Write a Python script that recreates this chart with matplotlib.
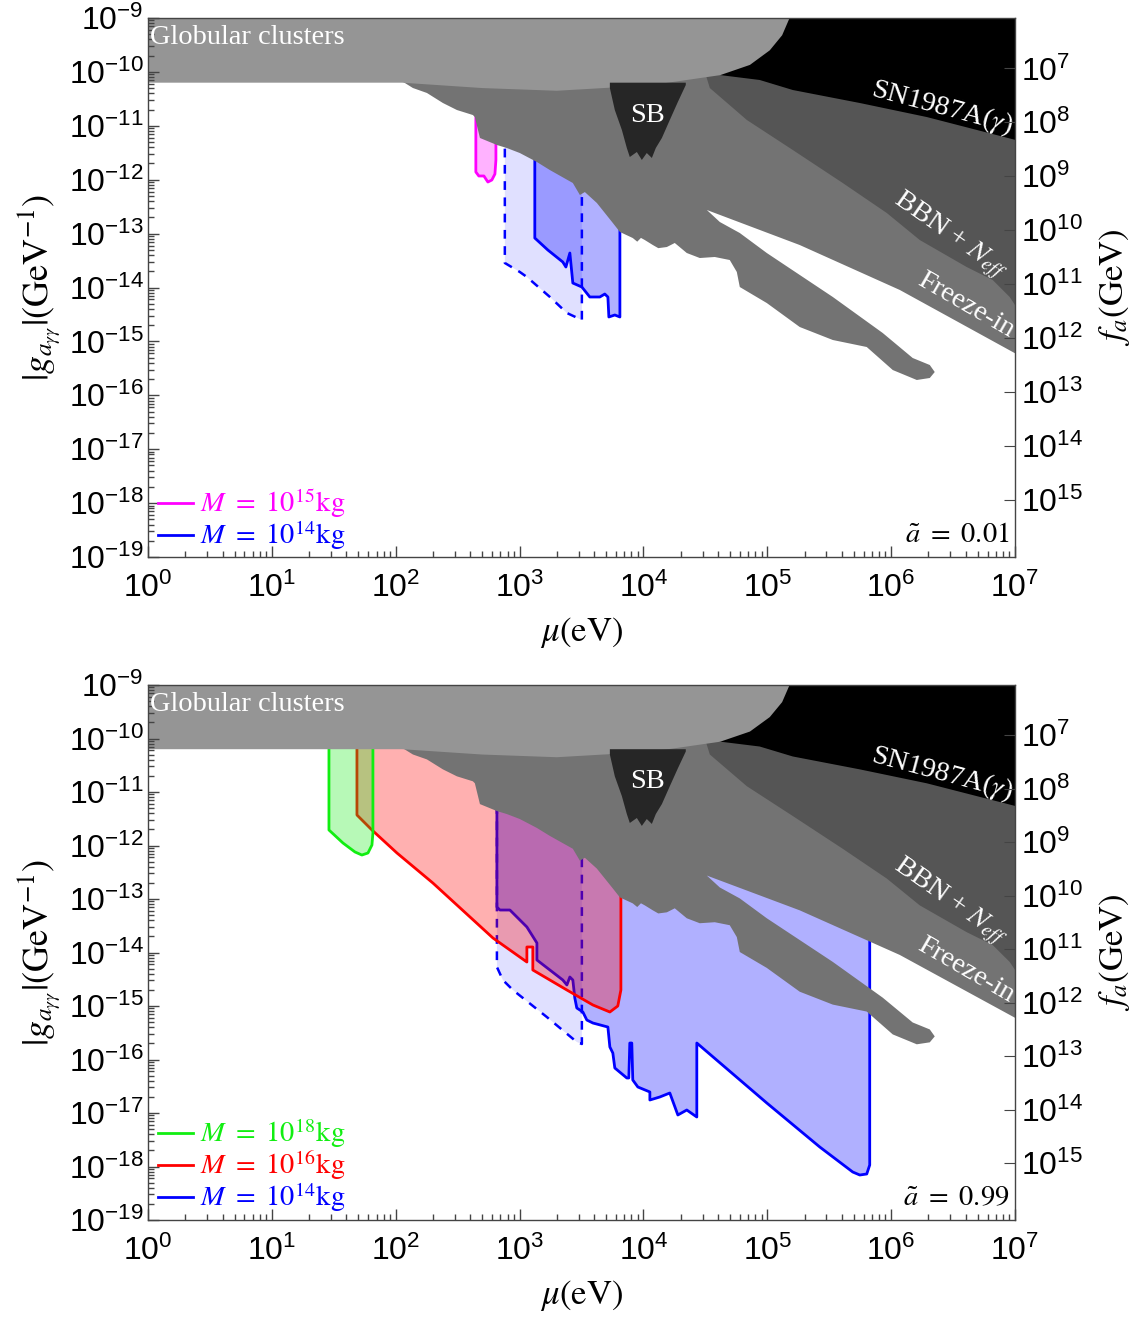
import numpy as np
import matplotlib
matplotlib.use("Agg")
import matplotlib.pyplot as plt
from matplotlib.ticker import FixedLocator, LogLocator, NullFormatter, NullLocator

plt.rcParams['font.family'] = ['Liberation Sans', 'DejaVu Sans']
plt.rcParams['mathtext.fontset'] = 'stix'

# ---------------- exclusion regions (log10 mu [eV], log10 g [GeV^-1]) ----------------
gc_x = [0.0, 2.05, 2.7, 3.3, 4.05, 4.62, 4.86, 5.02, 5.12, 5.18, 0.0]
gc_y = [-10.2, -10.2, -10.3, -10.35, -10.25, -10.06, -9.87, -9.6, -9.32, -9.0, -9.0]

sn_x = [4.45, 7.0, 7.0, 6.287, 5.747, 5.206, 4.939, 4.617, 4.45]
sn_y = [-9.0, -9.0, -11.26, -10.837, -10.577, -10.336, -10.15, -10.058, -10.0]

sb_x = [3.729, 3.769, 3.826, 3.866, 3.89, 3.947, 3.987, 4.027, 4.068, 4.1, 4.149, 4.213, 4.278, 4.342, 4.342, 3.729]
sb_y = [-10.3, -10.707, -11.078, -11.412, -11.579, -11.486, -11.634, -11.505, -11.597, -11.412, -11.226, -10.892, -10.558, -10.243, -10.2, -10.2]

bbn_x = [4.496, 4.536, 4.835, 5.206, 5.609, 5.965, 6.231, 6.61, 6.82, 6.957, 7.0, 7.0, 4.496]
bbn_y = [-10.0, -10.299, -10.892, -11.449, -12.061, -12.618, -13.119, -13.62, -13.861, -14.176, -14.325, -9.5, -9.5]

mid_x = [2.0, 2.139, 2.252, 2.381, 2.494, 2.623, 2.639, 2.68, 2.817, 2.897, 3.002, 3.14, 3.244, 3.43,
         3.487, 3.527, 3.624, 3.753, 3.81, 3.914, 3.95, 3.98, 4.011, 4.076, 4.12, 4.189, 4.253, 4.35,
         4.455, 4.576, 4.697, 4.754, 4.778, 4.996, 5.262, 5.529, 5.803, 6.013, 6.207, 6.312, 6.352,
         6.312, 6.174, 5.932, 5.529, 4.996, 4.778, 4.617, 4.512, 5.262, 6.07, 7.0, 7.0, 2.0]
mid_y = [-10.1, -10.299, -10.391, -10.577, -10.707, -10.8, -10.837, -11.226, -11.356, -11.412, -11.505,
         -11.672, -11.82, -12.061, -12.284, -12.229, -12.432, -12.803, -12.97, -13.082, -13.15, -13.08,
         -13.119, -13.212, -13.27, -13.249, -13.174, -13.36, -13.453, -13.434, -13.49, -13.712, -13.991,
         -14.288, -14.733, -14.974, -15.104, -15.531, -15.716, -15.679, -15.568, -15.438, -15.308,
         -14.844, -14.176, -13.36, -12.989, -12.785, -12.562, -13.212, -14.046, -15.22, -9.5, -9.5]

# ---------------- panel (a): a~ = 0.01 ----------------
mag15_x = [2.647, 2.647, 2.671, 2.712, 2.744, 2.776, 2.801, 2.809, 2.809]
mag15_y = [-10.52, -11.857, -11.931, -11.931, -12.043, -12.006, -11.894, -11.634, -10.52]

b14d_a_x = [2.881, 2.881, 3.002, 3.059, 3.245, 3.382, 3.503, 3.503]
b14d_a_y = [-10.52, -13.545, -13.712, -13.805, -14.176, -14.473, -14.603, -10.52]

b14_a_x = [3.123, 3.123, 3.228, 3.349, 3.374, 3.406, 3.43, 3.503, 3.567, 3.648, 3.688, 3.713, 3.721, 3.769, 3.81, 3.81]
b14_a_y = [-10.52, -13.082, -13.304, -13.527, -13.62, -13.36, -13.917, -13.991, -14.176, -14.176, -14.121,
           -14.176, -14.547, -14.51, -14.547, -10.52]

# ---------------- panel (b): a~ = 0.99 ----------------
g18_x = [1.461, 1.461, 1.574, 1.671, 1.727, 1.776, 1.808, 1.816, 1.816]
g18_y = [-10.03, -11.71, -11.953, -12.121, -12.178, -12.14, -11.991, -11.766, -10.03]

r16_x = [1.687, 1.687, 1.808, 2.01, 2.3, 2.785, 3.059, 3.059, 3.107, 3.107, 3.382, 3.592, 3.729, 3.793, 3.818, 3.818]
r16_y = [-10.03, -11.43, -11.71, -12.14, -12.701, -13.729, -14.178, -13.897, -13.897, -14.327, -14.701,
         -14.981, -15.112, -15.0, -14.701, -10.03]

b14d_b_x = [2.817, 2.817, 2.865, 2.946, 3.22, 3.462, 3.503, 3.503]
b14d_b_y = [-10.03, -14.271, -14.514, -14.701, -15.206, -15.673, -15.71, -10.03]

b14_b_x = [2.817, 2.817, 2.841, 2.922, 3.059, 3.14, 3.14, 3.349, 3.382, 3.406, 3.43, 3.446, 3.462, 3.511,
           3.543, 3.592, 3.713, 3.729, 3.753, 3.769, 3.866, 3.882, 3.89, 3.906, 3.914, 3.955, 4.052, 4.052,
           4.132, 4.213, 4.278, 4.35, 4.431, 4.431, 4.996, 5.424, 5.69, 5.747, 5.803, 5.827, 5.827]
b14_b_y = [-10.03, -13.15, -13.206, -13.206, -13.523, -13.822, -14.14, -14.514, -14.607, -14.458, -14.514,
           -14.85, -15.037, -15.112, -15.262, -15.318, -15.393, -15.766, -15.879, -16.159, -16.346, -16.346,
           -15.692, -15.692, -16.383, -16.514, -16.607, -16.757, -16.701, -16.626, -17.037, -16.944, -17.075,
           -15.692, -16.813, -17.636, -18.103, -18.159, -18.14, -17.972, -10.03]

legend_a_labels = [r'$M\ =\ 10^{15}\mathrm{kg}$', r'$M\ =\ 10^{14}\mathrm{kg}$']
legend_a_colors = ['#ff00ff', '#0000ff']
legend_b_labels = [r'$M\ =\ 10^{18}\mathrm{kg}$', r'$M\ =\ 10^{16}\mathrm{kg}$', r'$M\ =\ 10^{14}\mathrm{kg}$']
legend_b_colors = ['#11ee11', '#ff0000', '#0000ff']

x_ticks = [0, 1, 2, 3, 4, 5, 6, 7]
y_ticks = list(range(-19, -8))
fa_ticks = list(range(7, 16))
G_TO_FA = 1.16e-3  # g = alpha/(2 pi f_a)

fig = plt.figure(figsize=(11.47, 13.22), dpi=100)
W, H = 1147, 1322
L, R = 148, 1015
ax_a = fig.add_axes([L / W, 1 - 557 / H, (R - L) / W, (557 - 18) / H])
ax_b = fig.add_axes([L / W, 1 - 1220 / H, (R - L) / W, (1220 - 685) / H])

TICKFS = 23
TXTFS = 20.5
LABFS = 25
SERIF = ['Liberation Serif', 'DejaVu Serif']


def P(xs, ys):
    return 10 ** np.array(xs, float), 10 ** np.array(ys, float)


def region(ax, xs, ys, color, z, ls='-', fa=0.3):
    X, Y = P(xs, ys)
    ax.fill(X, Y, facecolor=color, alpha=fa, lw=0, zorder=z)
    if ls == '-':
        ax.plot(X, Y, color=color, lw=2.0, zorder=z + 0.05)
    else:
        ax.plot(X, Y, color=color, lw=1.8, zorder=z + 0.05, dashes=(3.5, 3))


def greys(ax):
    X, Y = P(mid_x, mid_y)
    ax.fill(X, Y, color='#737373', lw=0, zorder=2.0)
    X, Y = P(bbn_x, bbn_y)
    ax.fill(X, Y, color='#555555', lw=0, zorder=2.05)
    X, Y = P(sn_x, sn_y)
    ax.fill(X, Y, color='#000000', lw=0, zorder=2.1)
    X, Y = P(gc_x, gc_y)
    ax.fill(X, Y, color='#959595', lw=0, zorder=2.15)
    X, Y = P(sb_x, sb_y)
    ax.fill(X, Y, color='#262626', lw=0, zorder=2.2)
    kw = dict(color='white', fontsize=TXTFS, family=SERIF, zorder=3)
    ax.text(10 ** 0.02, 10 ** -9.37, 'Globular clusters', ha='left', va='center', **kw)
    ax.text(10 ** 4.035, 10 ** -10.8, 'SB', ha='center', va='center', **kw)
    ax.text(10 ** 6.41, 10 ** -10.65, r'SN1987A($\gamma$)', ha='center', va='center', rotation=-15, **kw)
    ax.text(10 ** 6.47, 10 ** -13.05, r'BBN + $N_{eff}$', ha='center', va='center', rotation=-35, **kw)
    ax.text(10 ** 6.6, 10 ** -14.33, 'Freeze-in', ha='center', va='center', rotation=-30, **kw)


def legend(ax, labels, colors, ys):
    for lab, c, y in zip(labels, colors, ys):
        ax.plot([0.0115, 0.052], [y, y], color=c, lw=2, transform=ax.transAxes, zorder=5, clip_on=False)
        ax.text(0.06, y, lab, color=c, fontsize=20.5, transform=ax.transAxes, ha='left', va='center', zorder=5)


def style(ax, atext):
    ax.set_xscale('log')
    ax.set_yscale('log')
    ax.set_xlim(1, 1e7)
    ax.set_ylim(1e-19, 1e-9)
    ax.xaxis.set_major_locator(FixedLocator([10.0 ** k for k in x_ticks]))
    ax.yaxis.set_major_locator(FixedLocator([10.0 ** k for k in y_ticks]))
    ax.xaxis.set_minor_locator(LogLocator(base=10, subs=np.arange(2, 10), numticks=100))
    ax.yaxis.set_minor_locator(LogLocator(base=10, subs=np.arange(2, 10), numticks=100))
    ax.xaxis.set_minor_formatter(NullFormatter())
    ax.yaxis.set_minor_formatter(NullFormatter())
    ax.set_xticklabels([r'$\mathdefault{10^{%d}}$' % k for k in x_ticks])
    ax.set_yticklabels([r'$\mathdefault{10^{%d}}$' % k for k in y_ticks])
    ax.tick_params(which='both', direction='in', labelsize=TICKFS, color='#444444', width=1)
    ax.tick_params(which='major', length=8)
    ax.tick_params(which='minor', length=4)
    ax.tick_params(axis='x', which='major', pad=11)
    ax.tick_params(axis='y', which='major', pad=3)
    ax.tick_params(axis='y', which='both', right=False, left=True)
    ax.tick_params(axis='x', which='both', top=False)
    for s in ax.spines.values():
        s.set_color('#444444')
        s.set_linewidth(1.0)
    ax.set_axisbelow(False)
    ax.set_xlabel(r'$\mu(\mathrm{eV})$', fontsize=LABFS, labelpad=8)
    ax.set_ylabel(r'$|g_{a_{\gamma\gamma}}|(\mathrm{GeV}^{-1})$', fontsize=LABFS + 1, labelpad=4)
    ax.text(0.994, 0.041, r'$\tilde{a}\ =\ %s$' % atext, transform=ax.transAxes,
            ha='right', va='center', fontsize=TXTFS, zorder=4)
    ax2 = ax.twinx()
    ax2.set_yscale('log')
    ax2.set_ylim(G_TO_FA / 1e-19, G_TO_FA / 1e-9)
    ax2.yaxis.set_major_locator(FixedLocator([10.0 ** k for k in fa_ticks]))
    ax2.yaxis.set_minor_locator(NullLocator())
    ax2.set_yticklabels([r'$\mathdefault{10^{%d}}$' % k for k in fa_ticks])
    ax2.tick_params(direction='in', length=8, labelsize=TICKFS, color='#444444', pad=4)
    ax2.set_ylabel(r'$f_a(\mathrm{GeV})$', fontsize=LABFS, labelpad=10)
    for s in ax2.spines.values():
        s.set_visible(False)


# ---- panel a ----
region(ax_a, b14d_a_x, b14d_a_y, '#0000ff', 1.0, ls='--', fa=0.12)
region(ax_a, b14_a_x, b14_a_y, '#0000ff', 1.1, fa=0.31)
region(ax_a, mag15_x, mag15_y, '#ff00ff', 1.2, fa=0.3)
greys(ax_a)
style(ax_a, '0.01')
legend(ax_a, legend_a_labels, legend_a_colors, [0.1002, 0.0408])

# ---- panel b ----
region(ax_b, b14d_b_x, b14d_b_y, '#0000ff', 1.0, ls='--', fa=0.12)
region(ax_b, b14_b_x, b14_b_y, '#0000ff', 1.1, fa=0.31)
region(ax_b, r16_x, r16_y, '#ff0000', 1.2, fa=0.31)
region(ax_b, g18_x, g18_y, '#11ee11', 1.3, fa=0.3)
greys(ax_b)
style(ax_b, '0.99')
legend(ax_b, legend_b_labels, legend_b_colors, [0.1626, 0.1028, 0.043])

fig.savefig('out.png', dpi=100)
